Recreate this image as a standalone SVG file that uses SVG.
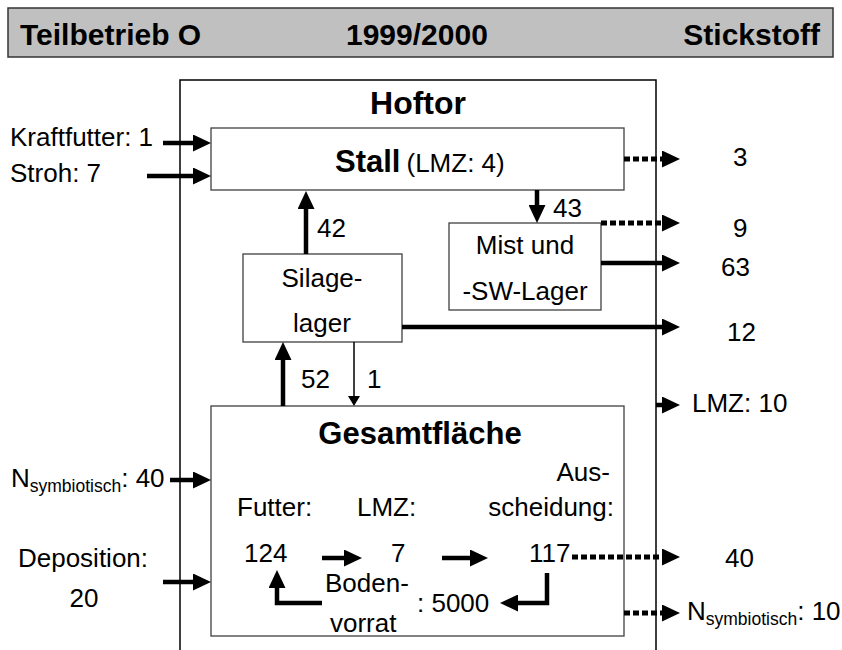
<svg xmlns="http://www.w3.org/2000/svg" width="842" height="650" viewBox="0 0 842 650">
<style>
text{font-family:"Liberation Sans",Arial,sans-serif;fill:#000}
.hd{font-size:30px;font-weight:bold}
.b{font-size:31px;font-weight:bold}
.n{font-size:26px}
.s{font-size:17.5px}
.c{text-anchor:middle}
.e{text-anchor:end}
.box{fill:#fff;stroke:#404040;stroke-width:1.3}
.a{fill:none;stroke:#000;stroke-width:4.5;marker-end:url(#ah)}
.d{fill:none;stroke:#000;stroke-width:5;stroke-dasharray:6,3;marker-end:url(#ah)}
.t{fill:none;stroke:#000;stroke-width:1.5;marker-end:url(#at)}
</style>
<defs>
<marker id="ah" markerUnits="userSpaceOnUse" markerWidth="18" markerHeight="17" refX="10" refY="8.5" orient="auto"><path d="M0,0 L18,8.5 L0,17 z" fill="#000"/></marker>
<marker id="at" markerUnits="userSpaceOnUse" markerWidth="10" markerHeight="12" refX="6" refY="6" orient="auto"><path d="M0,0 L10,6 L0,12 z" fill="#000"/></marker>
</defs>
<rect width="842" height="650" fill="#fff"/>
<g id="header">
<rect x="8" y="8" width="825" height="49" fill="#c0c0c0" stroke="#333" stroke-width="1.5"/>
<text class="hd" x="20" y="45">Teilbetrieb O</text>
<text class="hd" x="346" y="45">1999/2000</text>
<text class="hd e" x="820" y="45">Stickstoff</text>
</g>
<g id="hoftor">
<path d="M180,652 V80 H656 V652" fill="none" stroke="#000" stroke-width="1.5"/>
<text class="b c" x="418" y="114" style="font-size:32px">Hoftor</text>
</g>
<g id="stall">
<rect class="box" x="211" y="128" width="413" height="62"/>
<text x="335" y="172"><tspan class="b">Stall</tspan><tspan class="n" dx="6">(LMZ: 4)</tspan></text>
</g>
<g id="mist">
<rect class="box" x="449" y="223" width="152" height="87"/>
<text class="n c" x="525" y="254">Mist und</text>
<text class="n c" x="525" y="300">-SW-Lager</text>
</g>
<g id="silage">
<rect class="box" x="243" y="254" width="159" height="88"/>
<text class="n c" x="322" y="287">Silage-</text>
<text class="n c" x="322" y="332">lager</text>
</g>
<g id="gesamt">
<rect class="box" x="211" y="406" width="413" height="230"/>
<text class="b c" x="420" y="444">Gesamtfläche</text>
<text class="n" x="237" y="516">Futter:</text>
<text class="n" x="357" y="516">LMZ:</text>
<text class="n e" x="610" y="481">Aus-</text>
<text class="n e" x="614" y="516">scheidung:</text>
<text class="n" x="244" y="562">124</text>
<text class="n" x="391" y="562">7</text>
<text class="n" x="529" y="562">117</text>
<text class="n" x="325" y="592">Boden-</text>
<text class="n" x="330" y="632">vorrat</text>
<text class="n" x="417" y="612">: 5000</text>
</g>
<g id="labels">
<text class="n" x="10" y="146">Kraftfutter: 1</text>
<text class="n" x="10" y="182">Stroh: 7</text>
<text class="n" x="11" y="487">N<tspan class="s" dy="5">symbiotisch</tspan><tspan dy="-5">: 40</tspan></text>
<text class="n c" x="83" y="567">Deposition:</text>
<text class="n c" x="84" y="607">20</text>
<text class="n" x="317" y="237">42</text>
<text class="n" x="553" y="217">43</text>
<text class="n" x="301" y="388">52</text>
<text class="n" x="367" y="388">1</text>
<text class="n" x="733" y="166">3</text>
<text class="n" x="733" y="237">9</text>
<text class="n" x="721" y="276">63</text>
<text class="n" x="727" y="341">12</text>
<text class="n" x="692" y="412">LMZ: 10</text>
<text class="n" x="725" y="567">40</text>
<text class="n" x="687" y="620">N<tspan class="s" dy="5">symbiotisch</tspan><tspan dy="-5">: 10</tspan></text>
</g>
<g id="connectors">
<path class="a" d="M163,143 H203"/>
<path class="a" d="M147,176 H203"/>
<path class="d" d="M624,159 H672"/>
<path class="a" d="M537,190 V215"/>
<path class="a" d="M306,254 V199"/>
<path class="d" d="M601,223 H672"/>
<path class="a" d="M601,263 H672"/>
<path class="a" d="M402,327 H672"/>
<path class="a" d="M283,406 V350"/>
<path class="t" d="M354,342 V402"/>
<path class="a" d="M656,405 H672"/>
<path class="a" d="M170,480 H203"/>
<path class="a" d="M163,582 H203"/>
<path class="a" d="M322,558 H354"/>
<path class="a" d="M442,558 H480"/>
<path class="d" d="M572,557 H672"/>
<path class="a" d="M547,573 V603 H508"/>
<path class="a" d="M322,603 H277 V578"/>
<path class="d" d="M624,613 H672"/>
</g>
</svg>
